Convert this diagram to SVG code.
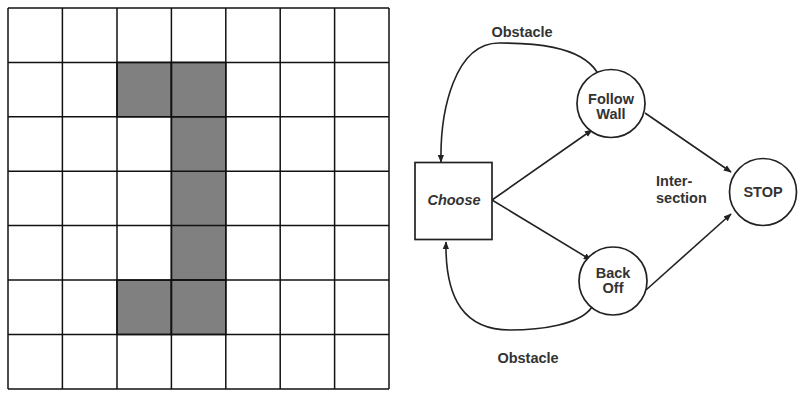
<svg xmlns="http://www.w3.org/2000/svg" width="802" height="400" viewBox="0 0 802 400">
<style>
.grid line{stroke:#111;stroke-width:1.5}
.cell{fill:#808080;stroke:#111;stroke-width:1.5}
.node{fill:#fff;stroke:#222;stroke-width:1.7}
.lbl{font-family:"Liberation Sans",Arial,sans-serif;font-weight:bold;font-size:14.5px;fill:#333;text-anchor:middle}
.edge{fill:none;stroke:#222;stroke-width:1.6;marker-end:url(#ah)}
</style>
<defs>
<marker id="ah" viewBox="0 0 10 10" refX="9" refY="5" markerWidth="8" markerHeight="8" markerUnits="userSpaceOnUse" orient="auto"><path d="M0,1 L10,5 L0,9 z" fill="#222"/></marker>
</defs>
<g id="grid">
<rect x="8" y="8" width="381" height="381" fill="#fff"/>
<rect class="cell" x="117" y="62.4" width="54.4" height="54.4"/>
<rect class="cell" x="171.4" y="62.4" width="54.4" height="54.4"/>
<rect class="cell" x="171.4" y="116.8" width="54.4" height="163.3"/>
<rect class="cell" x="117" y="280.1" width="54.4" height="54.4"/>
<rect class="cell" x="171.4" y="280.1" width="54.4" height="54.4"/>
<g class="grid">
<line x1="8" y1="8" x2="8" y2="389"/><line x1="62.4" y1="8" x2="62.4" y2="389"/><line x1="117" y1="8" x2="117" y2="389"/><line x1="171.4" y1="8" x2="171.4" y2="389"/><line x1="225.8" y1="8" x2="225.8" y2="389"/><line x1="280.2" y1="8" x2="280.2" y2="389"/><line x1="334.6" y1="8" x2="334.6" y2="389"/><line x1="389" y1="8" x2="389" y2="389"/>
<line x1="8" y1="8" x2="389" y2="8"/><line x1="8" y1="62.4" x2="389" y2="62.4"/><line x1="8" y1="116.8" x2="389" y2="116.8"/><line x1="8" y1="171.2" x2="389" y2="171.2"/><line x1="8" y1="225.6" x2="389" y2="225.6"/><line x1="8" y1="280.1" x2="389" y2="280.1"/><line x1="8" y1="334.5" x2="389" y2="334.5"/><line x1="8" y1="389" x2="389" y2="389"/>
</g>
</g>
<g id="connectors">
<line class="edge" x1="492" y1="200" x2="592" y2="130"/>
<line class="edge" x1="492" y1="200" x2="591" y2="260"/>
<line class="edge" x1="645" y1="113" x2="731" y2="172"/>
<line class="edge" x1="646" y1="290" x2="731" y2="214"/>
<path class="edge" d="M597,72 C580,45 530,43 499,43 C455,43 440,110 441,162"/>
<path class="edge" d="M592,307 C580,325 540,330 510,330 C465,330 445,300 446,242"/>
</g>
<g id="choose">
<rect class="node" x="415" y="162.5" width="77" height="77"/>
<text class="lbl" x="454" y="204.5" font-style="italic">Choose</text>
</g>
<g id="follow-wall">
<circle class="node" cx="611" cy="103.5" r="34"/>
<text class="lbl" x="611" y="104">Follow</text>
<text class="lbl" x="611" y="119">Wall</text>
</g>
<g id="back-off">
<circle class="node" cx="613" cy="281" r="34"/>
<text class="lbl" x="613" y="278">Back</text>
<text class="lbl" x="613" y="293">Off</text>
</g>
<g id="stop">
<circle class="node" cx="763" cy="192" r="33.5"/>
<text class="lbl" x="763" y="197">STOP</text>
</g>
<g id="labels">
<text class="lbl" x="522" y="37">Obstacle</text>
<text class="lbl" x="528" y="363">Obstacle</text>
<text class="lbl" x="656" y="186" style="text-anchor:start">Inter-</text>
<text class="lbl" x="656" y="202.5" style="text-anchor:start">section</text>
</g>
</svg>
